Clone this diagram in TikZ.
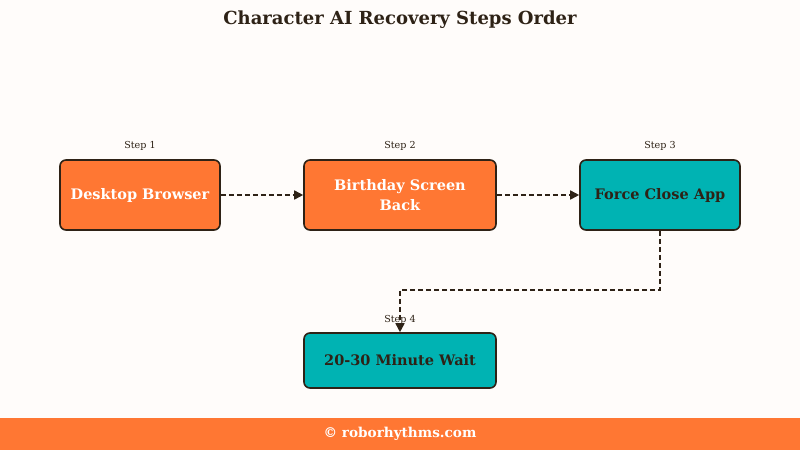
\documentclass[tikz,border=0pt]{standalone}
\usepackage{fontspec}
\setmainfont{DejaVu Serif}
\usetikzlibrary{arrows.meta}
\definecolor{bg}{HTML}{FFFCFA}
\definecolor{org}{HTML}{FF7733}
\definecolor{teal1}{HTML}{00B3B3}
\definecolor{brd}{HTML}{2E2216}
\begin{document}
\begin{tikzpicture}[x=1pt,y=-1pt,
  box/.style={draw=brd,line width=1.6pt,rounded corners=6pt,minimum width=190pt,minimum height=70pt,inner sep=2pt,font=\bfseries\fontsize{14.5}{20}\selectfont,align=center},
  ob/.style={box,fill=org,text=white},
  tb/.style={box,fill=teal1,text=brd},
  lab/.style={font=\fontsize{9.6}{11}\selectfont,text=brd},
  con/.style={draw=brd,line width=1.6pt,dash pattern=on 5pt off 3pt,-{Triangle[length=9pt,width=9pt]}}]
\fill[bg] (0,0) rectangle (800,450);
\useasboundingbox (0,0) rectangle (800,450);
\node[font=\bfseries\fontsize{18}{21}\selectfont,text=brd] (title) at (400,20) {Character AI Recovery Steps Order};
\node[ob,minimum width=160pt] (a) at (140,195) {Desktop Browser};
\node[ob,minimum width=192pt] (b) at (400,195) {Birthday Screen\\Back};
\node[tb,minimum width=160pt] (c) at (660,195) {Force Close App};
\node[tb,minimum width=192pt,minimum height=55pt] (d) at (400,360.5) {20-30 Minute Wait};
\node[lab] (la) at (140,146) {Step 1};
\node[lab] (lb) at (400,146) {Step 2};
\node[lab] (lc) at (660,146) {Step 3};
\node[lab] (ld) at (400,320) {Step 4};
\draw[con] (a) -- (b);
\draw[con] (b) -- (c);
\coordinate (k1) at (660,290);
\coordinate (k2) at (400,290);
\draw[con] (c.south) -- (k1) -- (k2) -- (d.north);
\fill[org] (0,418) rectangle (800,450);
\node[font=\bfseries\fontsize{13.6}{16}\selectfont,text=white] (foot) at (400,434) {© roborhythms.com};
\end{tikzpicture}
\end{document}
